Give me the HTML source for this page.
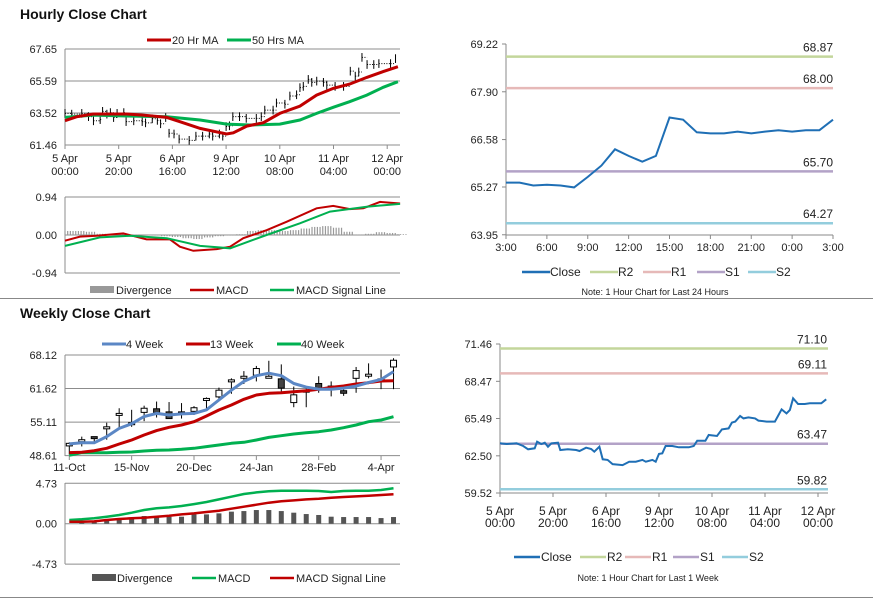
<!DOCTYPE html>
<html><head><meta charset="utf-8"><style>
body{margin:0;background:#fff;}
svg{display:block;font-family:"Liberation Sans",Arial,sans-serif;}
</style></head><body>
<svg id="s" width="873" height="601" viewBox="0 0 873 601" xmlns="http://www.w3.org/2000/svg">
<text x="20" y="19" font-size="14" font-weight="bold" fill="#111">Hourly Close Chart</text>
<text x="20" y="318" font-size="14" font-weight="bold" fill="#111">Weekly Close Chart</text>
<line x1="0" y1="298.5" x2="873" y2="298.5" stroke="#888" stroke-width="1"/>
<line x1="0" y1="597.5" x2="873" y2="597.5" stroke="#888" stroke-width="1"/>
</svg>
<script>
// ---------- data ----------
const hourHrs = [0,2.5,6.25,8.75,10.6,13.1,14,15.6,16.9,18.1,19.4,21.9,22.75,25.6,28.75,30,32.5,34.4,35.6,37.5,38.75,40.6,42.5,46.25,48.75,51.25,53.75,55,57.5,58.75,60,61.25,62.5,65,67.5,71.25,73.1,74.4,77.5,78.75,81.9,83.75,86.25,87.5,88.75,90.6,91.9,93.75,96.25,97.5,100.6,103.75,106.25,108.1,109.4,110.6,112.5,115,116.9,121.25,123.1];
const hourClose = [63.50,63.45,63.50,63.29,63.02,63.10,63.63,63.45,63.55,63.23,63.50,63.55,62.97,63.02,62.97,62.89,63.15,63.05,62.83,63.23,62.22,62.17,61.84,61.76,62.03,62.03,62.17,62.03,62.17,62.03,62.65,62.70,63.29,63.29,63.18,63.18,63.29,63.71,63.71,64.17,64.09,64.62,64.70,65.16,65.24,65.69,65.50,65.58,65.50,65.32,65.24,65.24,66.22,65.90,66.17,67.11,66.65,66.65,66.71,66.71,67.03];
const ma20Hrs = [0,4.3,10.5,23,29,37.9,42.8,50.3,60.2,62.7,67.7,73.9,80,87.5,93.7,99.9,106,112.4,118.5,124];
const ma20Vals = [63.03,63.28,63.46,63.46,63.39,63.24,62.96,62.53,62.17,62.25,62.68,62.90,63.50,63.97,64.68,65.11,65.39,65.82,66.19,66.51];
const ma50Hrs = [0,10.5,23,37.9,50.3,60.2,68.9,80,87.5,93.7,99.9,106,112.4,118.5,124];
const ma50Vals = [63.24,63.39,63.33,63.28,63.07,62.81,62.75,62.81,63.07,63.50,63.89,64.25,64.68,65.18,65.54];
const hMacdHrs = [0,5.6,11.8,21.7,30.4,39.1,42.8,47.8,56.5,61.5,66.4,75.1,82.6,93.7,99.9,106.1,111.1,117.3,124.8];
const hMacdVals = [-0.14,-0.04,-0.02,0.04,-0.11,-0.11,-0.29,-0.39,-0.35,-0.29,-0.08,0.12,0.33,0.66,0.72,0.64,0.66,0.82,0.78];
const hSigHrs = [0,13,24.2,37.9,50.3,61.5,75.1,87.5,98.7,112.4,124.8];
const hSigVals = [-0.27,-0.06,-0.02,-0.08,-0.27,-0.33,0,0.29,0.58,0.70,0.77];
const hDivVals = [0.1,0.1,0.08,0.03,0,0.02,0.01,0,-0.01,-0.03,-0.05,-0.08,-0.1,-0.06,-0.03,-0.01,0.02,0.1,0.12,0.12,0.1,0.12,0.16,0.2,0.22,0.18,0.08,0.01,0.03,0.07,0.05,0.02];
const hourTicks = ["5 Apr|00:00","5 Apr|20:00","6 Apr|16:00","9 Apr|12:00","10 Apr|08:00","11 Apr|04:00","12 Apr|00:00"];
const hourPriceTicks = [67.65,65.59,63.52,61.46];
const macdTicksH = [0.94,0,-0.94];

const wOpen  = [50.5,51.5,52.3,54.1,56.7,54.9,57.0,57.7,57.1,57.1,57.2,59.6,60.0,63.2,63.9,64.2,63.9,63.5,58.9,61.2,62.6,62.1,61.2,63.6,64.3,63.4,65.8];
const wClose = [51.0,51.7,52.0,54.2,56.8,55.0,57.8,56.9,55.8,56.7,57.9,59.7,61.3,63.3,64.0,65.5,64.0,61.7,60.4,61.3,61.7,61.4,60.7,65.1,64.4,63.5,67.1];
const wHigh  = [51.2,52.3,52.3,55.0,57.8,57.5,58.3,59.1,59.0,58.8,58.2,59.9,61.8,63.6,65.0,66.0,67.0,66.3,62.0,62.0,64.0,63.0,62.0,65.8,66.5,65.3,67.5];
const wLow   = [48.8,50.4,51.0,51.7,54.0,54.2,55.3,56.0,55.8,55.8,56.5,57.7,59.5,60.6,62.5,63.0,63.8,61.0,58.0,58.0,60.8,60.1,60.2,60.8,63.6,61.5,61.5];
const wk4  = [50.9,51.1,51.1,52.3,53.9,54.8,56.2,56.8,56.5,56.7,56.8,57.5,59.4,61.3,63.0,64.1,64.6,64.1,62.6,61.9,61.5,61.5,61.7,62.1,62.8,63.4,64.9];
const wk13 = [49.2,49.26,49.58,50.03,50.87,51.65,52.62,53.46,54.10,54.55,55.20,56.30,57.46,58.43,59.53,60.37,60.69,60.82,61.01,61.21,61.47,61.85,62.11,62.50,62.76,63.08,63.14];
const wk40 = [48.68,49.19,49.19,49.19,49.26,49.32,49.52,49.65,49.71,49.84,50.03,50.36,50.68,51.0,51.2,51.65,52.16,52.49,52.81,53.07,53.26,53.59,54.04,54.55,55.20,55.52,56.17];
const wMacd = [0.43,0.51,0.63,0.82,1.02,1.29,1.6,1.8,1.91,2.07,2.30,2.54,2.85,3.16,3.48,3.67,3.79,3.87,3.87,3.87,3.83,3.71,3.83,3.87,3.87,3.95,4.14];
const wSig  = [0.23,0.23,0.27,0.43,0.55,0.63,0.70,0.82,0.94,1.09,1.21,1.37,1.52,1.76,1.99,2.23,2.46,2.62,2.73,2.85,2.93,3.05,3.13,3.20,3.28,3.36,3.44];
const wDiv  = [0,0.1,0.2,0.4,0.63,0.74,0.9,0.9,0.82,0.82,1.09,1.09,1.21,1.41,1.48,1.6,1.6,1.48,1.29,1.13,1.02,0.82,0.78,0.78,0.78,0.66,0.78];
const weekTickIdx = [0,5,10,15,20,25];
const weekTickLabels = ["11-Oct","15-Nov","20-Dec","24-Jan","28-Feb","4-Apr"];
const weekPriceTicks = [68.12,61.62,55.11,48.61];
const macdTicksW = [4.73,0,-4.73];

const dayHrs = [0,1,2,3,4,5,6,7,8,9,10,11,12,13,14,15,16,17,18,19,20,21,22,23,24];
const dayClose = [65.39,65.39,65.31,65.33,65.31,65.26,65.55,65.86,66.31,66.13,65.97,66.13,67.19,67.13,66.78,66.75,66.75,66.80,66.75,66.80,66.84,66.80,66.84,66.84,67.13];
const dayTicks = ["3:00","6:00","9:00","12:00","15:00","18:00","21:00","0:00","3:00"];
const dayPriceTicks = [69.22,67.90,66.58,65.27,63.95];
const dayLevelNames = ["R2","R1","S1","S2"];
const dayLevels = [68.87,68.00,65.70,64.27];
const weekHourPriceTicks = [71.46,68.47,65.49,62.50,59.52];
const weekLevels = [71.10,69.11,63.47,59.82];

const levelColors = ["#c3d69b","#e6b9b8","#b3a2c7","#93cddd"];

// ---------- helpers ----------
const NS="http://www.w3.org/2000/svg";
const svg=document.getElementById('s');
function add(tag, attrs, parent){const e=document.createElementNS(NS,tag);for(const k in attrs)e.setAttribute(k,attrs[k]);(parent||svg).appendChild(e);return e;}
function txt(x,y,s,attrs){const e=add('text',Object.assign({x:x,y:y,'font-size':11,fill:'#222'},attrs||{}));e.textContent=s;return e;}
function poly(xs,ys,fx,fy){return xs.map((h,i)=>fx(h).toFixed(1)+','+fy(ys[i]).toFixed(1)).join(' ');}

// ---------- scales ----------
const xA=h=>65+h*2.685, yA=v=>49+(67.65-v)*15.51, yAm=v=>235-v*40.4;
const xB=i=>69.3+i*12.47, yB=v=>355+(68.12-v)*5.16, yBm=v=>523.7-v*8.54;
const xC=h=>506+h*13.625, yC=v=>44+(69.22-v)*36.2;
const xD=h=>500+h*2.65, yD=v=>344+(71.46-v)*12.48;

// ===== Chart A: hourly candles =====
hourPriceTicks.forEach(v=>{
  let g=add('line',{x1:65,x2:400,y1:yA(v),y2:yA(v),stroke:'#8c8c8c','stroke-width':1});
  
  
  let t=txt(57,yA(v)+4,v.toFixed(2),{'text-anchor':'end'});
  
  
});
{let a=add('line',{x1:65,x2:65,y1:49,y2:145,stroke:'#8c8c8c'});

}
hourTicks.forEach((s,i)=>{
  const x=65+i*53.7, p=s.split('|');
  let tk=add('line',{x1:x,x2:x,y1:145,y2:149,stroke:'#8c8c8c'});
  
  
  let t1=txt(x,162,p[0],{'text-anchor':'middle'});
  
  
  let t2=txt(x,175,p[1],{'text-anchor':'middle'});
  
  
});
hourHrs.forEach((h,i)=>{
  const v=hourClose[i], x=xA(h);
  let c=add('line',{x1:x,x2:x,y1:yA(v+0.28),y2:yA(v-0.28),stroke:'#000','stroke-width':1});
  
  
  if(i<hourHrs.length-1){
    const x2=xA(hourHrs[i+1]);
    let d=add('line',{x1:x,x2:x2,y1:yA(v),y2:yA(v),stroke:'#000','stroke-width':1,'stroke-dasharray':'1 1.5'});
    
    
  }
});
{let l=add('polyline',{points:poly(ma50Hrs,ma50Vals,xA,yA),fill:'none',stroke:'#00b050','stroke-width':3});


let r=add('polyline',{points:poly(ma20Hrs,ma20Vals,xA,yA),fill:'none',stroke:'#c00000','stroke-width':3});

}
[[147,'#c00000','20 Hr MA','legend-20hr-ma'],[227,'#00b050','50 Hrs MA','legend-50hr-ma']].forEach(L=>{
  let l=add('line',{x1:L[0],x2:L[0]+24,y1:40,y2:40,stroke:L[1],'stroke-width':3});
  
  
  let t=txt(L[0]+25,44,L[2]);
  
  
});

// ===== Chart A MACD =====
macdTicksH.forEach(v=>{
  let g=add('line',{x1:65,x2:400,y1:yAm(v),y2:yAm(v),stroke:'#8c8c8c'});
  
  
  let t=txt(57,yAm(v)+4,v.toFixed(2),{'text-anchor':'end'});
  
  
});
{let a=add('line',{x1:65,x2:65,y1:197,y2:273,stroke:'#8c8c8c'});

}
hDivVals.forEach((v,i)=>{
  const x=xA(i*4);
  for(let k=0;k<4;k++){
    let b=add('rect',{x:x+k*2.68-0.6,y:Math.min(yAm(v),235),width:1.2,height:Math.abs(yAm(v)-235),fill:'#999'});
    
    
  }
});
{let r=add('polyline',{points:poly(hMacdHrs,hMacdVals,xA,yAm),fill:'none',stroke:'#c00000','stroke-width':2});


let g=add('polyline',{points:poly(hSigHrs,hSigVals,xA,yAm),fill:'none',stroke:'#00b050','stroke-width':2});

}
{let s=add('rect',{x:90,y:286,width:24,height:7,fill:'#999'});


let t=txt(116,294,'Divergence');

}
[[190,'#c00000','MACD','legend-hourly-macd'],[270,'#00b050','MACD Signal Line','legend-hourly-signal']].forEach(L=>{
  let l=add('line',{x1:L[0],x2:L[0]+24,y1:290,y2:290,stroke:L[1],'stroke-width':2.5});
  
  
  let t=txt(L[0]+26,294,L[2]);
  
  
});

// ===== Chart B: weekly =====
weekPriceTicks.forEach(v=>{
  let g=add('line',{x1:65,x2:400,y1:yB(v),y2:yB(v),stroke:'#8c8c8c'});
  
  
  let t=txt(57,yB(v)+4,v.toFixed(2),{'text-anchor':'end'});
  
  
});
{let a=add('line',{x1:65,x2:65,y1:355,y2:456,stroke:'#8c8c8c'});

}
weekTickIdx.forEach((idx,i)=>{
  const x=xB(idx);
  let tk=add('line',{x1:x,x2:x,y1:456,y2:460,stroke:'#8c8c8c'});
  
  
  let t=txt(x,471,weekTickLabels[i],{'text-anchor':'middle'});
  
  
});
wOpen.forEach((o,i)=>{
  const x=xB(i), c=wClose[i];
  let w=add('line',{x1:x,x2:x,y1:yB(wHigh[i]),y2:yB(wLow[i]),stroke:'#000','stroke-width':1});
  
  
  const top=yB(Math.max(o,c)), h=Math.max(2,Math.abs(yB(o)-yB(c)));
  let b=add('rect',{x:x-3,y:top,width:6,height:h,fill:c>=o?'#fff':'#444',stroke:'#000','stroke-width':1});
  
  
});
const wIdx=wk4.map((_,i)=>i);
[[wk40,'#00b050','weekly-40wk-line'],[wk13,'#c00000','weekly-13wk-line'],[wk4,'#5b87c5','weekly-4wk-line']].forEach(S=>{
  let l=add('polyline',{points:poly(wIdx,S[0],xB,yB),fill:'none',stroke:S[1],'stroke-width':3,'stroke-linejoin':'round'});
  
  
});
[[102,'#5b87c5','4 Week','legend-4-week'],[186,'#c00000','13 Week','legend-13-week'],[277,'#00b050','40 Week','legend-40-week']].forEach(L=>{
  let l=add('line',{x1:L[0],x2:L[0]+24,y1:344,y2:344,stroke:L[1],'stroke-width':3});
  
  
  let t=txt(L[0]+24,348,L[2]);
  
  
});

// ===== Chart B MACD =====
macdTicksW.forEach(v=>{
  let g=add('line',{x1:65,x2:400,y1:yBm(v),y2:yBm(v),stroke:'#8c8c8c'});
  
  
  let t=txt(57,yBm(v)+4,v.toFixed(2),{'text-anchor':'end'});
  
  
});
{let a=add('line',{x1:65,x2:65,y1:483,y2:564,stroke:'#8c8c8c'});

}
wDiv.forEach((v,i)=>{
  let b=add('rect',{x:xB(i)-2.5,y:yBm(v),width:5,height:yBm(0)-yBm(v),fill:'#555'});
  
  
});
{let g=add('polyline',{points:poly(wIdx,wMacd,xB,yBm),fill:'none',stroke:'#00b050','stroke-width':2.5});


let r=add('polyline',{points:poly(wIdx,wSig,xB,yBm),fill:'none',stroke:'#c00000','stroke-width':2.5});

}
{let s=add('rect',{x:92,y:574,width:24,height:7,fill:'#555'});


let t=txt(117,582,'Divergence');

}
[[192,'#00b050','MACD','legend-weekly-macd'],[270,'#c00000','MACD Signal Line','legend-weekly-signal']].forEach(L=>{
  let l=add('line',{x1:L[0],x2:L[0]+24,y1:578,y2:578,stroke:L[1],'stroke-width':2.5});
  
  
  let t=txt(L[0]+26,582,L[2]);
  
  
});

// ===== Chart C: last 24 hours =====
{let a=add('line',{x1:506,x2:506,y1:44,y2:235,stroke:'#888'});


let b=add('line',{x1:506,x2:833,y1:235,y2:235,stroke:'#888'});

}
dayPriceTicks.forEach(v=>{
  let tk=add('line',{x1:502,x2:506,y1:yC(v),y2:yC(v),stroke:'#888'});
  
  
  let t=txt(498,yC(v)+4,v.toFixed(2),{'text-anchor':'end'});
  
  
});
dayTicks.forEach((s,i)=>{
  const x=xC(i*3);
  let tk=add('line',{x1:x,x2:x,y1:235,y2:239,stroke:'#888'});
  
  
  let t=txt(x,251,s,{'text-anchor':'middle'});
  
  
});
dayLevels.forEach((v,i)=>{
  let l=add('line',{x1:506,x2:833,y1:yC(v),y2:yC(v),stroke:levelColors[i],'stroke-width':2.5});
  
  
  let t=txt(833,yC(v)-5,v.toFixed(2),{'text-anchor':'end','font-size':12});
  
  
});
{let l=add('polyline',{points:poly(dayHrs,dayClose,xC,yC),fill:'none',stroke:'#1f6fb5','stroke-width':2});

}
[[522,'#1f6fb5','Close'],[590,levelColors[0],'R2'],[643,levelColors[1],'R1'],[697,levelColors[2],'S1'],[748,levelColors[3],'S2']].forEach(L=>{
  let l=add('line',{x1:L[0],x2:L[0]+28,y1:272,y2:272,stroke:L[1],'stroke-width':2.5});
  
  
  let t=txt(L[0]+28,276,L[2],{'font-size':12});
  
  
});
{let n=txt(655,295,'Note: 1 Hour Chart for Last 24 Hours',{'text-anchor':'middle','font-size':9});

}

// ===== Chart D: last week hourly =====
{let a=add('line',{x1:500,x2:500,y1:344,y2:493,stroke:'#888'});


let b=add('line',{x1:500,x2:828,y1:493,y2:493,stroke:'#888'});

}
weekHourPriceTicks.forEach(v=>{
  let tk=add('line',{x1:496,x2:500,y1:yD(v),y2:yD(v),stroke:'#888'});
  
  
  let t=txt(492,yD(v)+4,v.toFixed(2),{'text-anchor':'end'});
  
  
});
hourTicks.forEach((s,i)=>{
  const x=xD(i*20), p=s.split('|');
  let tk=add('line',{x1:x,x2:x,y1:493,y2:497,stroke:'#888'});
  
  
  let t1=txt(x,515,p[0],{'text-anchor':'middle','font-size':12});
  
  
  let t2=txt(x,527,p[1],{'text-anchor':'middle','font-size':12});
  
  
});
weekLevels.forEach((v,i)=>{
  let l=add('line',{x1:500,x2:828,y1:yD(v),y2:yD(v),stroke:levelColors[i],'stroke-width':2.5});
  
  
  let t=txt(827,yD(v)-5,v.toFixed(2),{'text-anchor':'end','font-size':12});
  
  
});
{let l=add('polyline',{points:poly(hourHrs,hourClose,xD,yD),fill:'none',stroke:'#1f6fb5','stroke-width':2});

}
[[514,'#1f6fb5','Close'],[580,levelColors[0],'R2'],[625,levelColors[1],'R1'],[673,levelColors[2],'S1'],[722,levelColors[3],'S2']].forEach(L=>{
  let l=add('line',{x1:L[0],x2:L[0]+26,y1:557,y2:557,stroke:L[1],'stroke-width':2.5});
  
  
  let t=txt(L[0]+27,561,L[2],{'font-size':12});
  
  
});
{let n=txt(648,581,'Note: 1 Hour Chart for Last 1 Week',{'text-anchor':'middle','font-size':9});

}
</script>
</body></html>
